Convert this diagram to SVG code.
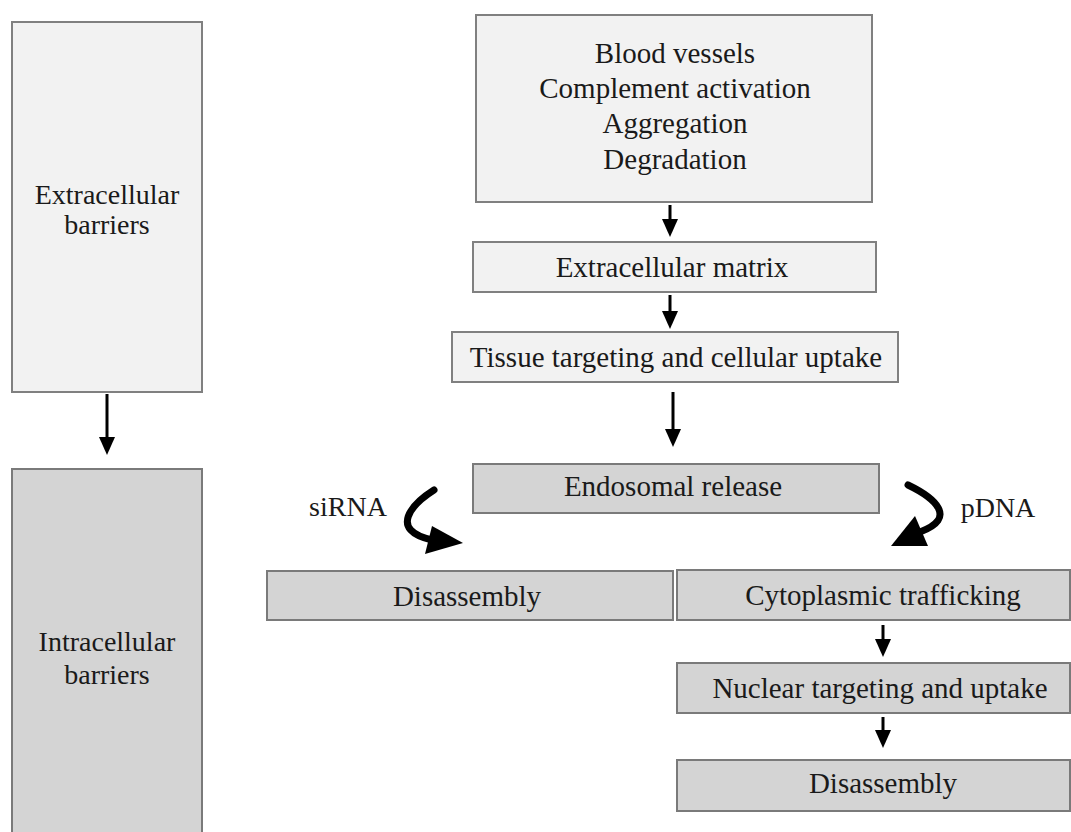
<svg xmlns="http://www.w3.org/2000/svg" width="1071" height="832" viewBox="0 0 1071 832">
<style>
.light{fill:#f2f2f2;stroke:#808080;stroke-width:2}
.dark{fill:#d4d4d4;stroke:#7a7a7a;stroke-width:2}
text{font-family:"Liberation Serif","Times New Roman",serif;font-size:29px;fill:#1a1a1a;text-anchor:middle}
.side{font-size:28px}
.conn{stroke:#000;stroke-width:3;fill:none}
.curve{stroke:#000;stroke-width:7;fill:none;stroke-linecap:round}
</style>
<defs>
<marker id="ah" markerUnits="userSpaceOnUse" markerWidth="18" markerHeight="16" viewBox="0 0 18 16" refX="1" refY="8" orient="auto">
<path d="M0,0 L18,8 L0,16 z" fill="#000"/>
</marker>
</defs>
<rect width="1071" height="832" fill="#fff"/>
<g id="extracellular-barriers">
<rect class="light" x="12" y="22" width="190" height="370"/>
<text class="side" x="107" y="204">Extracellular</text>
<text class="side" x="107" y="234">barriers</text>
</g>
<g id="intracellular-barriers">
<rect class="dark" x="12" y="469" width="190" height="380"/>
<text class="side" x="107" y="651">Intracellular</text>
<text class="side" x="107" y="684">barriers</text>
</g>
<g id="blood">
<rect class="light" x="476" y="15" width="396" height="187"/>
<text x="675" y="63">Blood vessels</text>
<text x="675" y="98">Complement activation</text>
<text x="675" y="133">Aggregation</text>
<text x="675" y="169">Degradation</text>
</g>
<g id="ecm">
<rect class="light" x="473" y="242" width="403" height="50"/>
<text x="672" y="277">Extracellular matrix</text>
</g>
<g id="tissue">
<rect class="light" x="452" y="332" width="446" height="50"/>
<text x="676" y="367">Tissue targeting and cellular uptake</text>
</g>
<g id="endosomal">
<rect class="dark" x="473" y="464" width="406" height="49"/>
<text x="673" y="496">Endosomal release</text>
</g>
<g id="disassembly-si">
<rect class="dark" x="267" y="571" width="406" height="49"/>
<text x="467" y="606">Disassembly</text>
</g>
<g id="cytoplasmic">
<rect class="dark" x="677" y="570" width="393" height="50"/>
<text x="883" y="605">Cytoplasmic trafficking</text>
</g>
<g id="nuclear">
<rect class="dark" x="677" y="663" width="393" height="50"/>
<text x="880" y="698">Nuclear targeting and uptake</text>
</g>
<g id="disassembly-p">
<rect class="dark" x="677" y="760" width="393" height="51"/>
<text x="883" y="793">Disassembly</text>
</g>
<g id="labels">
<text class="side" x="348" y="516">siRNA</text>
<text class="side" x="998" y="517">pDNA</text>
</g>
<g id="connectors">
<line class="conn" x1="107" y1="394" x2="107" y2="438" marker-end="url(#ah)"/>
<line class="conn" x1="670" y1="205" x2="670" y2="220" marker-end="url(#ah)"/>
<line class="conn" x1="670" y1="295" x2="670" y2="312" marker-end="url(#ah)"/>
<line class="conn" x1="673" y1="392" x2="673" y2="430" marker-end="url(#ah)"/>
<line class="conn" x1="883" y1="625" x2="883" y2="640" marker-end="url(#ah)"/>
<line class="conn" x1="883" y1="717" x2="883" y2="731" marker-end="url(#ah)"/>
<path class="curve" d="M434,490 C412,504 388,530 432,540"/>
<polygon points="432,526 463,543 425,554" fill="#000"/>
<path class="curve" d="M908,485 C935,498 958,518 920,532"/>
<polygon points="915,516 928,546 891,546" fill="#000"/>
</g>
</svg>
